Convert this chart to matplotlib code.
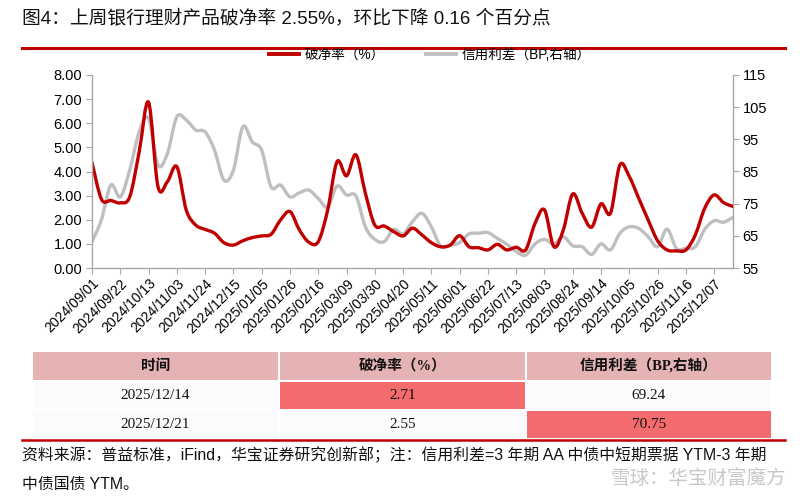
import numpy as np
import matplotlib
matplotlib.use('Agg')
import matplotlib.pyplot as plt
from matplotlib.path import Path
from matplotlib.patches import PathPatch, Rectangle
from matplotlib.lines import Line2D

plt.rcParams['font.family'] = ['Liberation Sans', 'Noto Sans CJK SC']

# ---------------- data ----------------
tick_labels = ['2024/09/01', '2024/09/22', '2024/10/13', '2024/11/03', '2024/11/24',
               '2024/12/15', '2025/01/05', '2025/01/26', '2025/02/16', '2025/03/09',
               '2025/03/30', '2025/04/20', '2025/05/11', '2025/06/01', '2025/06/22',
               '2025/07/13', '2025/08/03', '2025/08/24', '2025/09/14', '2025/10/05',
               '2025/10/26', '2025/11/16', '2025/12/07']

break_rate = [4.38, 2.85, 2.80, 2.70, 2.95, 4.80, 6.87, 3.37, 3.58, 4.20,
              2.40, 1.78, 1.60, 1.44, 1.05, 0.95, 1.13, 1.26, 1.33, 1.40,
              1.99, 2.34, 1.58, 1.07, 1.09, 2.40, 4.41, 3.82, 4.69, 3.10,
              1.78, 1.74, 1.51, 1.33, 1.65, 1.37, 1.05, 0.88, 0.95, 1.34,
              0.88, 0.84, 0.75, 0.98, 0.75, 0.86, 0.75, 1.85, 2.41, 0.88,
              1.58, 3.07, 2.27, 1.69, 2.66, 2.27, 4.27, 3.79, 2.89, 1.99,
              1.13, 0.75, 0.71, 0.75, 1.37, 2.48, 3.03, 2.71, 2.55]

credit_spread = [63.2, 70.0, 80.8, 77.1, 85.4, 97.3, 101.5, 87.0, 90.6, 102.0,
                 101.0, 97.9, 97.3, 91.6, 82.3, 85.4, 98.9, 94.2, 91.6, 80.2,
                 80.8, 77.1, 78.4, 79.2, 76.6, 74.0, 80.5, 77.7, 77.4, 67.8,
                 63.9, 63.2, 67.0, 65.6, 69.4, 72.0, 67.8, 61.8, 62.1, 62.9,
                 65.6, 65.8, 66.0, 64.2, 62.4, 60.1, 59.0, 62.5, 63.9, 62.5,
                 64.7, 61.9, 61.6, 59.2, 62.5, 60.6, 65.8, 67.8, 67.3, 64.7,
                 61.6, 67.1, 61.1, 61.1, 61.6, 67.0, 69.7, 69.24, 70.75]

table_dates = ['2025/12/14', '2025/12/21']
table_rate = [2.71, 2.55]
table_spread = [69.24, 70.75]
table_header = ['时间', '破净率（%）', '信用利差（BP,右轴）']

title = '图4：上周银行理财产品破净率 2.55%，环比下降 0.16 个百分点'
legend_labels = ['破净率（%）', '信用利差（BP,右轴）']
footer1 = '资料来源：普益标准，iFind，华宝证券研究创新部；注：信用利差=3 年期 AA 中债中短期票据 YTM-3 年期'
footer2 = '中债国债 YTM。'
watermark = '雪球：华宝财富魔方'

RED = '#C00000'
GRAY = '#BFBFBF'
AXC = '#A6A6A6'

W, H = 800, 500


def smooth_path(x, y):
    n = len(x)
    verts = [(x[0], y[0])]
    codes = [Path.MOVETO]
    for i in range(n - 1):
        p0 = i - 1 if i > 0 else i
        p3 = i + 2 if i + 2 < n else i + 1
        c1 = (x[i] + (x[i + 1] - x[p0]) / 6.0, y[i] + (y[i + 1] - y[p0]) / 6.0)
        c2 = (x[i + 1] - (x[p3] - x[i]) / 6.0, y[i + 1] - (y[p3] - y[i]) / 6.0)
        verts += [c1, c2, (x[i + 1], y[i + 1])]
        codes += [Path.CURVE4] * 3
    return Path(verts, codes)


def fx(px):
    return px / W


def fy(py):
    return 1 - py / H


fig = plt.figure(figsize=(8, 5), dpi=100)
fig.patch.set_facecolor('white')

# title + rule
fig.text(fx(22), fy(18), title, fontsize=13.5, ha='left', va='center', color='#111111')
fig.add_artist(Line2D([fx(22), fx(785)], [fy(48), fy(48)], color=RED, lw=2.2))

# main axes
ax = fig.add_axes([fx(92), fy(268), fx(733 - 92), (268 - 75) / H])
ax2 = ax.twinx()
ax.set_zorder(ax2.get_zorder() + 1)
ax.patch.set_visible(False)

x = np.arange(len(break_rate), dtype=float)
p1 = PathPatch(smooth_path(x, np.array(break_rate)), fill=False, edgecolor=RED,
               lw=2.4, capstyle='round', joinstyle='round')
ax.add_patch(p1)
p2 = PathPatch(smooth_path(x, np.array(credit_spread)), fill=False, edgecolor=GRAY,
               lw=2.4, capstyle='round', joinstyle='round')
ax2.add_patch(p2)

ax.set_xlim(0, len(break_rate) - 1)
ax.set_ylim(0, 8)
ax2.set_ylim(55, 115)
ax.set_yticks(np.arange(0, 8.01, 1))
ax.set_yticklabels(['%.2f' % v for v in np.arange(0, 8.01, 1)])
ax2.set_yticks(np.arange(55, 116, 10))
ax.set_xticks(np.arange(0, 3 * len(tick_labels), 3))
ax.set_xticklabels(tick_labels, rotation=45, ha='right', rotation_mode='anchor', fontsize=10)

for a in (ax, ax2):
    a.spines['top'].set_visible(False)
    for s in ('left', 'right', 'bottom'):
        a.spines[s].set_color(AXC)
        a.spines[s].set_linewidth(1.0)
ax.spines['right'].set_visible(False)
ax2.spines['left'].set_visible(False)
ax2.spines['bottom'].set_visible(False)
ax.tick_params(axis='y', labelsize=10.5, color=AXC, length=4, width=0.8, pad=3)
ax.tick_params(axis='x', color=AXC, length=4, width=0.8, pad=2)
ax2.tick_params(axis='y', labelsize=10.5, color=AXC, length=4, width=0.8, pad=3)

# legend
handles = [Line2D([], [], color=RED, lw=2.8), Line2D([], [], color=GRAY, lw=2.8)]
fig.legend(handles, legend_labels, loc='center', bbox_to_anchor=(fx(430), fy(55)),
           ncol=2, frameon=False, fontsize=9.8, handlelength=2.2, columnspacing=3.0,
           handletextpad=0.4)

# table
col_edges = [(33, 278), (280, 525), (527, 771)]
row_edges = [(352, 380), (382, 409), (411, 438)]
HDR = '#E5B3B4'
HIL = '#F46B6D'
CELL = '#FBFBFD'
serif = ['Liberation Serif', 'Noto Sans CJK SC']


def cell(c, r, color, text, bold=False, size=11):
    x0, x1 = col_edges[c]
    y0, y1 = row_edges[r]
    fig.add_artist(Rectangle((fx(x0), fy(y1)), fx(x1 - x0), (y1 - y0) / H,
                             facecolor=color, edgecolor='none'))
    fig.text(fx((x0 + x1) / 2), fy((y0 + y1) / 2), text, ha='center', va='center',
             fontsize=size, family=serif, fontweight='bold' if bold else 'normal',
             color='#111111')


for c, h in enumerate(table_header):
    cell(c, 0, HDR, h, bold=True, size=10.5)
rate_max = max(table_rate)
spread_max = max(table_spread)
for r in range(len(table_dates)):
    cell(0, r + 1, CELL, table_dates[r])
    cell(1, r + 1, HIL if table_rate[r] == rate_max else CELL, '%.2f' % table_rate[r])
    cell(2, r + 1, HIL if table_spread[r] == spread_max else CELL, '%.2f' % table_spread[r])

fig.add_artist(Line2D([fx(22), fx(785)], [fy(440), fy(440)], color=RED, lw=1.8))

# footer
fig.text(fx(22), fy(455), footer1, fontsize=11.4, ha='left', va='center', color='#111111')
fig.text(fx(22), fy(484), footer2, fontsize=11.4, ha='left', va='center', color='#111111')

# watermark
fig.text(fx(786), fy(479), watermark, fontsize=14, ha='right', va='center',
         color='#BBBBBB', alpha=0.8)

fig.savefig('out.png', dpi=100, facecolor='white')
